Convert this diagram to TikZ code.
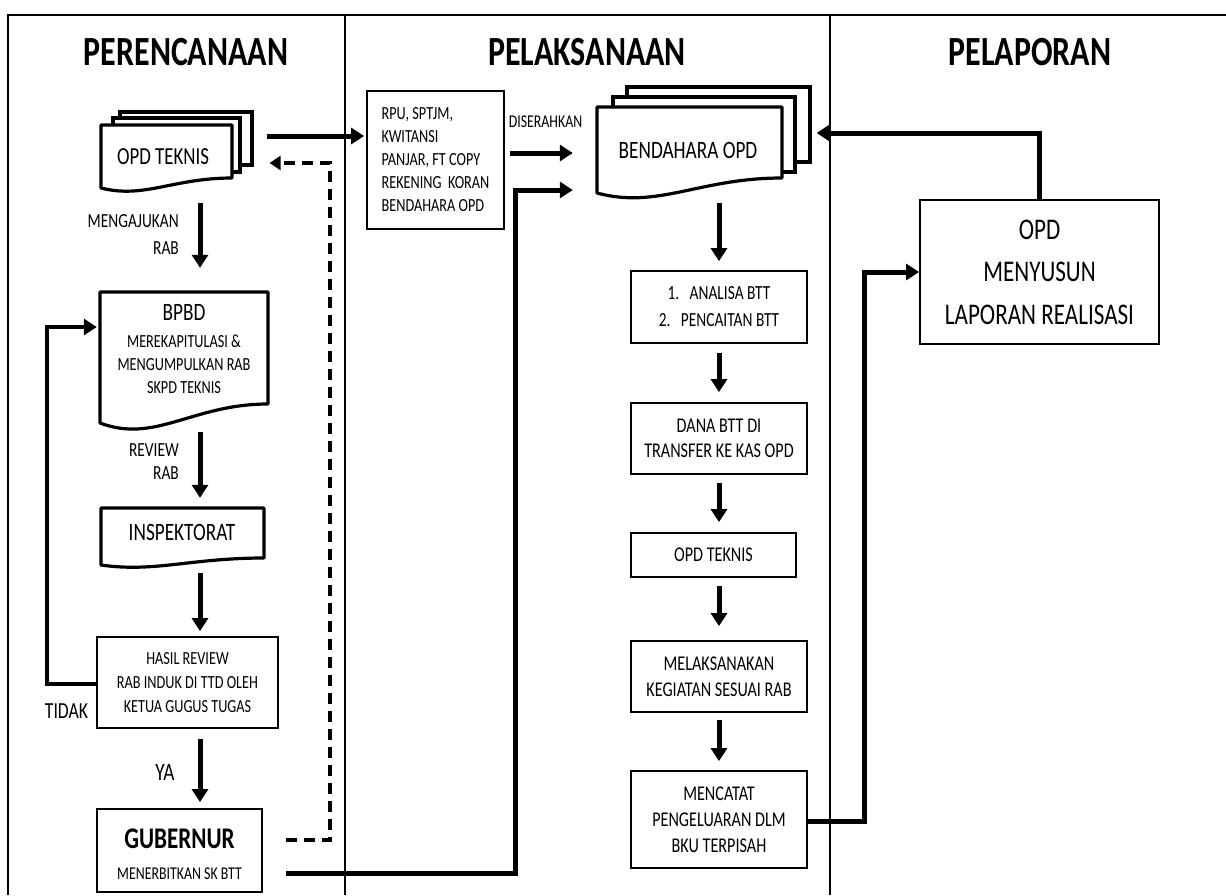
\documentclass[tikz,border=0pt]{standalone}
\usepackage{fontspec}
\setmainfont{Carlito}[FakeStretch=0.77]
\usetikzlibrary{arrows.meta,calc}
\newcommand\fs[2]{\fontsize{#1}{#2}\selectfont}
% document shape: x1,y1 (top left), x2 (right), yR (right bottom), yL (left bottom)
\newcommand\docshape[5]{%
  \filldraw[fill=white, docline] (#1,#2) -- (#3,#2) -- (#3,#4)
    .. controls ({#1+0.55*(#3-#1)},#4) and ({#1+0.33*(#3-#1)},{#5+1.1*(#5-#4)}) .. (#1,#5) -- cycle;}
\tikzset{
  frame/.style={line width=1.6pt},
  docline/.style={line width=3.2pt, line join=round},
  page/.style={draw, fill=white, line width=3.2pt, inner sep=0pt},
  holder/.style={inner sep=0pt},
  box/.style={draw, fill=white, line width=1.8pt, inner sep=0pt, align=center},
  txt/.style={inner sep=0pt, align=center},
  hdr/.style={inner sep=0pt, font=\fs{41.5}{41.5}\bfseries},
  arr/.style={line width=5pt, -{Triangle[length=13pt,width=16pt]}},
  dasharr/.style={line width=4pt, dash pattern=on 11pt off 7pt, -{Triangle[length=11pt,width=14pt]}},
}
\begin{document}
\begin{tikzpicture}[x=1pt,y=-1pt]
\useasboundingbox (0,0) rectangle (1226,895);
% frame and columns
\draw[frame] (8,895) -- (8,15) -- (1226,15);
\draw[frame] (345,15) -- (345,895);
\draw[frame] (830,15) -- (830,895);
\node[hdr] (h1) at (186,52) {PERENCANAAN};
\node[hdr] (h2) at (587,52) {PELAKSANAAN};
\node[hdr] (h3) at (1030,52) {PELAPORAN};

\coordinate (sL) at (200,0);
\coordinate (sM) at (719,0);

% ---------- left column ----------
\node[page, minimum width=132pt, minimum height=53pt] (opdp3) at (186,138.5) {};
\node[page, minimum width=127pt, minimum height=54pt] (opdp2) at (176.5,145) {};
\node[holder, minimum width=131pt, minimum height=63pt] (opds) at (166.5,156.5) {};
\docshape{101}{125}{232}{178}{188}
\node[txt, font=\fs{24.5}{24.5}] (opdst) at (163,157) {OPD TEKNIS};

\node[holder, minimum width=168pt, minimum height=131pt] (bpbd) at (184,357.5) {};
\docshape{100}{292}{268}{404}{423}
\node[txt, font=\fs{18.5}{23}] (bpbdt) at (184,349) {{\fs{25}{25}BPBD}\\[4pt]MEREKAPITULASI \&\\MENGUMPULKAN RAB\\SKPD TEKNIS};

\node[holder, minimum width=163pt, minimum height=57pt] (insp) at (182.5,536.5) {};
\docshape{101}{508}{264}{558}{565}
\node[txt, font=\fs{25}{25}] (inspt) at (182,532) {INSPEKTORAT};

\node[box, minimum width=181pt, minimum height=91pt, font=\fs{18.5}{24}] (hasil) at (187.5,682.5)
  {HASIL REVIEW\\RAB INDUK DI TTD OLEH\\KETUA GUGUS TUGAS};
\node[box, minimum width=165pt, minimum height=83pt, font=\fs{18}{31}] (gub) at (179.5,850.5)
  {\rule{0pt}{28pt}{\fs{30}{31}\bfseries GUBERNUR}\\MENERBITKAN SK BTT};

\node[txt, anchor=east, align=right, font=\fs{20}{27}] (lab1) at (179,234.5) {MENGAJUKAN\\RAB};
\node[txt, anchor=east, align=right, font=\fs{20}{23}] (lab2) at (179,461.5) {REVIEW\\RAB};
\node[txt, font=\fs{23}{23}] (tidak) at (66.5,711) {TIDAK};
\node[txt, font=\fs{25}{25}] (ya) at (165,772) {YA};

\draw[arr, shorten <=15pt, shorten >=24pt] (opds.south -| sL) -- (bpbd.north -| sL);
\draw[arr, shorten <=9pt, shorten >=10pt] (bpbd.south -| sL) -- (insp.north -| sL);
\draw[arr, shorten <=8pt, shorten >=5pt] (insp.south -| sL) -- (hasil.north -| sL);
\draw[arr, shorten <=10pt, shorten >=6pt] (hasil.south -| sL) -- (gub.north -| sL);
\draw[arr, line width=4.5pt, shorten >=3pt] (hasil.west |- 0,684) -| (47,327) -- (bpbd.west |- 0,327);

% ---------- middle column ----------
\node[box, minimum width=137pt, minimum height=138pt, align=left,
  font=\fs{18.5}{23}] (rpu) at (435.5,160)
  {RPU, SPTJM,\\KWITANSI\\PANJAR, FT COPY\\REKENING\ \ KORAN\\BENDAHARA OPD};
\node[txt, font=\fs{18}{18}] (diserahkan) at (545.5,122) {DISERAHKAN};

\node[page, minimum width=183pt, minimum height=75pt] (bendp3) at (718.5,124.5) {};
\node[page, minimum width=182pt, minimum height=75pt] (bendp2) at (704,134.5) {};
\node[holder, minimum width=185pt, minimum height=86pt] (bend) at (689.5,150) {};
\docshape{597}{107}{782}{178}{193}
\node[txt, font=\fs{25}{25}] (bendt) at (688,150) {BENDAHARA OPD};

\node[box, minimum width=176pt, minimum height=72pt, font=\fs{20}{27}] (analisa) at (719,307)
  {1.\ \ \ ANALISA BTT\\2.\ \ \ PENCAITAN BTT};
\node[box, minimum width=176pt, minimum height=71pt, font=\fs{21}{25}] (dana) at (719,438.5)
  {DANA BTT DI\\TRANSFER KE KAS OPD};
\node[box, minimum width=165pt, minimum height=44pt, font=\fs{21}{21}] (opdt2) at (713.5,555)
  {OPD TEKNIS};
\node[box, minimum width=176pt, minimum height=71pt, font=\fs{21}{26}] (melak) at (719,676.5)
  {MELAKSANAKAN\\KEGIATAN SESUAI RAB};
\node[box, minimum width=176pt, minimum height=97pt, font=\fs{21}{26}] (mencatat) at (719,819.5)
  {MENCATAT\\PENGELUARAN DLM\\BKU TERPISAH};

\draw[arr, shorten <=10pt, shorten >=9pt] (bend.south -| sM) -- (analisa.north -| sM);
\draw[arr, shorten <=9pt, shorten >=10pt] (analisa.south -| sM) -- (dana.north -| sM);
\draw[arr, shorten <=8pt, shorten >=10pt] (dana.south -| sM) -- (opdt2.north -| sM);
\draw[arr, shorten <=8pt, shorten >=14pt] (opdt2.south -| sM) -- (melak.north -| sM);
\draw[arr, shorten <=7pt, shorten >=9pt] (melak.south -| sM) -- (mencatat.north -| sM);

% ---------- right column ----------
\node[box, minimum width=239pt, minimum height=144pt, font=\fs{30}{42.5}] (opdr) at (1039.5,272)
  {OPD\\MENYUSUN\\LAPORAN REALISASI};

% ---------- cross connectors ----------
\draw[arr, shorten <=13pt, shorten >=2pt] (opdp3.east |- 0,136) -- (rpu.west |- 0,136);
\draw[dasharr, shorten <=23pt, shorten >=16pt] (gub.east |- 0,840) -| (330,163) -- (opdp3.east |- 0,163);
\draw[arr, shorten <=23pt, shorten >=24pt] (gub.east |- 0,873) -| (515,190) -- (bend.west |- 0,190);
\draw[arr, shorten <=5pt, shorten >=24pt] (rpu.east |- 0,153) -- (bend.west |- 0,153);
\draw[arr, shorten >=5pt] (opdr.north) |- (bendp3.east |- 0,133);
\draw[arr] (mencatat.east |- 0,821) -| (864,272) -- (opdr.west |- 0,272);
\end{tikzpicture}
\end{document}
